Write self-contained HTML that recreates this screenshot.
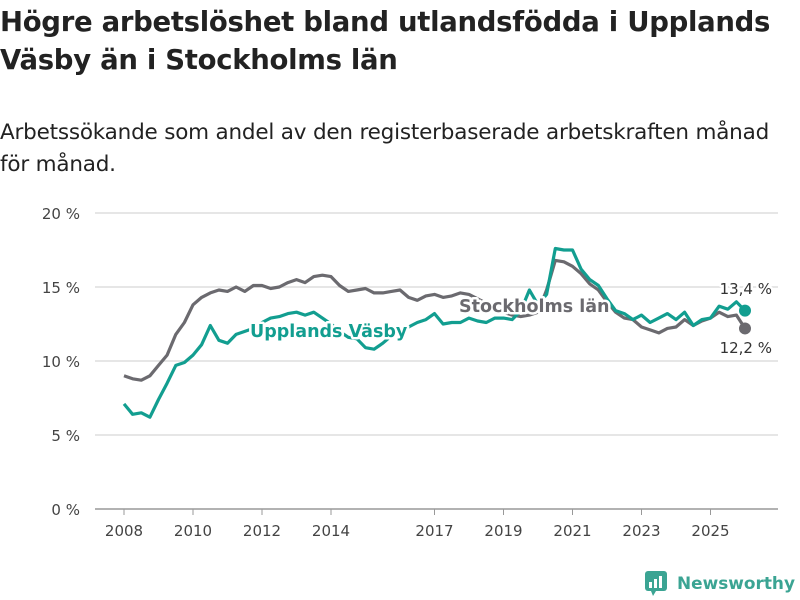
<!DOCTYPE html>
<html><head><meta charset="utf-8"><style>
body{margin:0;width:800px;height:600px;background:#fff;font-family:"DejaVu Sans","Liberation Sans",sans-serif;overflow:hidden;position:relative}
h1{position:absolute;left:0;top:3px;margin:0;font-size:27.5px;line-height:38px;font-weight:bold;color:#222;letter-spacing:-0.3px;white-space:nowrap}
.sub{position:absolute;left:0;top:117px;margin:0;font-size:21.5px;line-height:32px;color:#222;letter-spacing:-0.2px;white-space:nowrap}
svg{position:absolute;left:0;top:0}
</style></head><body>
<h1>Högre arbetslöshet bland utlandsfödda i Upplands<br>Väsby än i Stockholms län</h1>
<p class="sub">Arbetssökande som andel av den registerbaserade arbetskraften månad<br>för månad.</p>
<svg id="chart" width="800" height="600"></svg>
<script>
const yTicks=[0,5,10,15,20];
const yTickLabels=["0 %","5 %","10 %","15 %","20 %"];
const xTicks=[2008,2010,2012,2014,2017,2019,2021,2023,2025];
const startYear=2008, step=0.25;
const stockholm=[9.0,8.8,8.7,9.0,9.7,10.4,11.8,12.6,13.8,14.3,14.6,14.8,14.7,15.0,14.7,15.1,15.1,14.9,15.0,15.3,15.5,15.3,15.7,15.8,15.7,15.1,14.7,14.8,14.9,14.6,14.6,14.7,14.8,14.3,14.1,14.4,14.5,14.3,14.4,14.6,14.5,14.2,13.9,13.6,13.3,13.1,13.0,13.1,13.3,14.8,16.8,16.7,16.4,15.9,15.2,14.8,14.0,13.3,12.9,12.8,12.3,12.1,11.9,12.2,12.3,12.8,12.4,12.7,12.9,13.3,13.0,13.1,12.2];
const vasby=[7.1,6.4,6.5,6.2,7.4,8.5,9.7,9.9,10.4,11.1,12.4,11.4,11.2,11.8,12.0,12.2,12.6,12.9,13.0,13.2,13.3,13.1,13.3,12.9,12.5,12.0,11.6,11.5,10.9,10.8,11.2,11.7,12.0,12.3,12.6,12.8,13.2,12.5,12.6,12.6,12.9,12.7,12.6,12.9,12.9,12.8,13.4,14.8,13.8,14.5,17.6,17.5,17.5,16.2,15.5,15.1,14.2,13.4,13.2,12.8,13.1,12.6,12.9,13.2,12.8,13.3,12.4,12.8,12.9,13.7,13.5,14.0,13.4];
const svg=document.getElementById('chart');
const NS='http://www.w3.org/2000/svg';
const X=y=>124+(y-2008)*34.5;
const Y=v=>509-v*14.8;
function mk(t,a,p){const e=document.createElementNS(NS,t);for(const k in a)e.setAttribute(k,a[k]);(p||svg).appendChild(e);return e;}
yTicks.forEach((v,i)=>{
 const l=mk('line',{x1:95,x2:778,y1:Y(v),y2:Y(v),stroke:v===0?'#999':'#ddd','stroke-width':1.5});
 
 
 const t=mk('text',{x:80,y:Y(v)+6,'text-anchor':'end','font-size':15,fill:'#444'});
 t.textContent=yTickLabels[i];
 
 
});
xTicks.forEach(yr=>{
 const l=mk('line',{x1:X(yr),x2:X(yr),y1:509,y2:515,stroke:'#999','stroke-width':1});
 
 
 const t=mk('text',{x:X(yr),y:536,'text-anchor':'middle','font-size':15,fill:'#444'});
 t.textContent=yr;
 
 
});
function series(vals,color,name){
 const d=vals.map((v,i)=>(i?'L':'M')+X(startYear+i*step).toFixed(1)+','+Y(v).toFixed(1)).join('');
 const p=mk('path',{d:d,fill:'none',stroke:color,'stroke-width':3.2,'stroke-linejoin':'round'});
 
 
 const n=vals.length-1;
 const c=mk('circle',{cx:X(startYear+n*step),cy:Y(vals[n]),r:6,fill:color});
 
 
}
series(stockholm,'#6b6a6f','stockholm');
series(vasby,'#129e90','vasby');
function label(x,y,txt,color,size,weight,name,anchor){
 const t=mk('text',{x:x,y:y,fill:color,'font-size':size,'font-weight':weight,stroke:'#fff','stroke-width':5,'paint-order':'stroke','stroke-linejoin':'round','text-anchor':anchor||'start'});
 t.textContent=txt;
 
 
}
label(250,337,'Upplands Väsby','#129e90',17.5,'bold','vasby-series-label');
label(459,312,'Stockholms län','#6b6a6f',17.5,'bold','stockholm-series-label');
label(772,294,'13,4 %','#333',15,'normal','vasby-end-value','end');
label(772,353,'12,2 %','#333',15,'normal','stockholm-end-value','end');
const g=mk('g',{});


mk('rect',{x:645,y:571,width:22,height:20,rx:3,fill:'#3ba493'},g);
mk('path',{d:'M651,591 L656,591 L653,596 Z',fill:'#3ba493'},g);
mk('rect',{x:649,y:582,width:3,height:6,fill:'#fff'},g);
mk('rect',{x:654,y:579,width:3,height:9,fill:'#fff'},g);
mk('rect',{x:659,y:576,width:3,height:12,fill:'#fff'},g);
const lt=mk('text',{x:677,y:589,'font-size':17,'font-weight':'bold',fill:'#3ba493',textLength:118,lengthAdjust:'spacingAndGlyphs'},g);
lt.textContent='Newsworthy';
</script>
</body></html>
